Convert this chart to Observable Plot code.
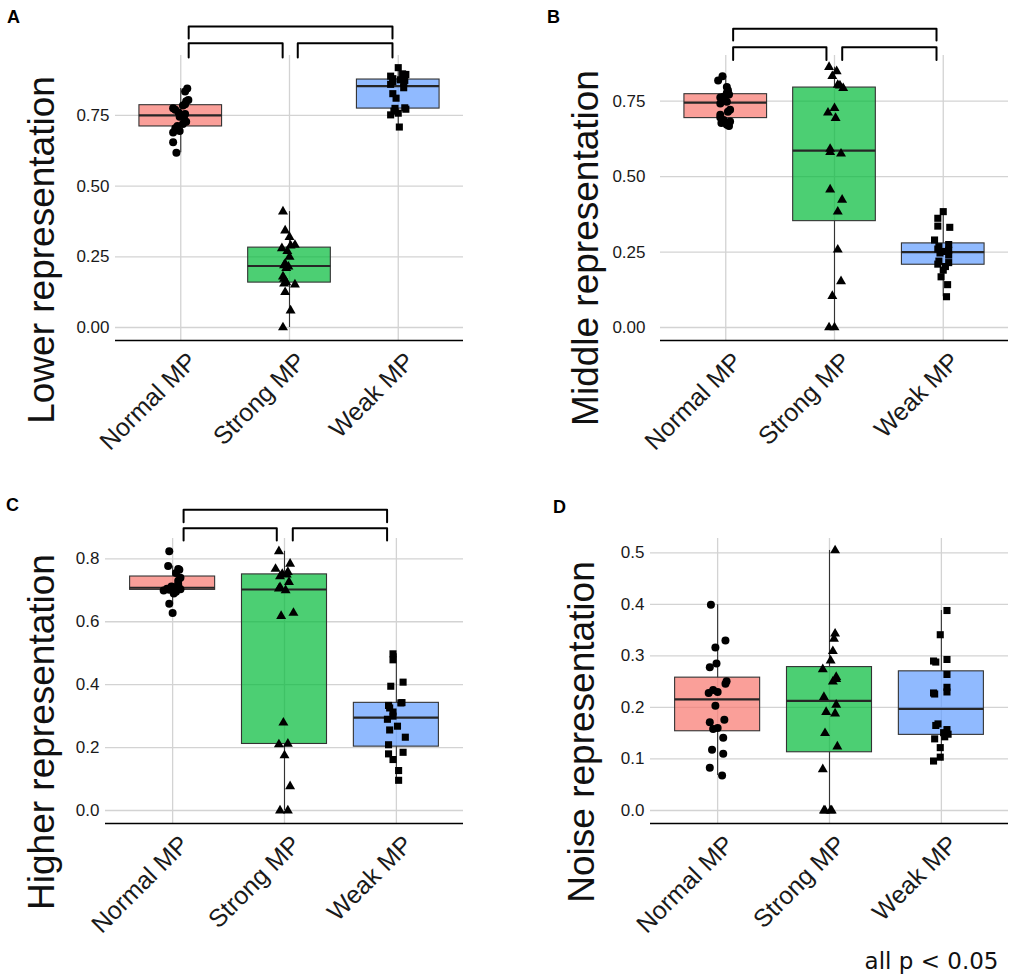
<!DOCTYPE html>
<html>
<head>
<meta charset="utf-8">
<script src="https://cdn.jsdelivr.net/npm/d3@7"></script>
<script src="https://cdn.jsdelivr.net/npm/@observablehq/plot@0.6"></script>
<style>
  body { margin: 0; background: #fff; }
  #fig { position: relative; width: 1013px; height: 978px; background: #fff; font-family: "Liberation Sans", Arial, sans-serif; }
  #fig svg { position: absolute; overflow: visible; }
</style>
</head>
<body>
<div id="fig"></div>
<script>
// ---------- categories & styling ----------
const groups = ["Normal MP", "Strong MP", "Weak MP"];
const shapes = ["circle", "triangle", "square"];
const boxColors = ["#F8766D", "#00BA38", "#619CFF"];

// ---------- tick labels ----------
const ticksAB = [0, 0.25, 0.5, 0.75];
const ticksC = [0, 0.2, 0.4, 0.6, 0.8];
const ticksD = [0, 0.1, 0.2, 0.3, 0.4, 0.5];

// ---------- A: Lower representation ----------
const lowerNormal = [0.618, 0.655, 0.69, 0.695, 0.705, 0.713, 0.72, 0.728, 0.74, 0.745, 0.755, 0.76, 0.77, 0.775, 0.785, 0.79, 0.80, 0.805, 0.835, 0.845];
const lowerNormalJitter = [-0.04, -0.07, -0.07, -0.01, -0.05, -0.03, 0.02, 0.05, 0.03, -0.01, 0.04, -0.02, -0.05, -0.07, 0.02, 0.04, 0.05, 0.07, 0.04, 0.06];
const lowerStrong = [0.00, 0.06, 0.125, 0.152, 0.155, 0.16, 0.172, 0.18, 0.21, 0.215, 0.22, 0.225, 0.25, 0.27, 0.28, 0.29, 0.292, 0.32, 0.343, 0.41];
const lowerStrongJitter = [-0.06, 0.01, -0.04, 0.05, -0.05, -0.03, -0.05, -0.06, -0.03, -0.01, -0.05, -0.04, 0, -0.02, -0.07, 0.01, 0.05, 0, -0.04, -0.06];
const lowerWeak = [0.709, 0.752, 0.758, 0.765, 0.772, 0.775, 0.777, 0.811, 0.827, 0.848, 0.86, 0.865, 0.87, 0.874, 0.876, 0.88, 0.889, 0.895, 0.897, 0.919];
const lowerWeakJitter = [0.01, -0.07, 0, -0.04, 0.07, -0.03, 0.06, -0.02, -0.05, 0.05, -0.07, 0.05, -0.05, 0.06, 0.02, -0.05, -0.07, 0.07, 0.04, 0];

// ---------- B: Middle representation ----------
const middleNormal = [0.668, 0.672, 0.678, 0.683, 0.688, 0.696, 0.705, 0.715, 0.722, 0.742, 0.748, 0.755, 0.762, 0.765, 0.772, 0.777, 0.786, 0.797, 0.819, 0.833];
const middleNormalJitter = [0.03, 0.01, -0.04, 0.04, -0.02, -0.05, -0.05, 0.02, 0.04, -0.05, 0.01, -0.03, -0.05, -0.02, 0.03, 0.01, 0.02, 0.01, -0.07, -0.03];
const middleStrong = [0, 0, 0.104, 0.153, 0.258, 0.384, 0.423, 0.457, 0.576, 0.581, 0.592, 0.694, 0.712, 0.727, 0.793, 0.802, 0.804, 0.833, 0.849, 0.863];
const middleStrongJitter = [-0.05, 0, -0.02, 0.06, 0.03, 0.03, 0.07, -0.04, 0.06, -0.04, -0.04, 0.01, -0.06, 0, 0.08, 0.05, 0.03, -0.02, 0.02, -0.05];
const middleWeak = [0.102, 0.142, 0.168, 0.19, 0.202, 0.21, 0.215, 0.22, 0.24, 0.247, 0.252, 0.256, 0.26, 0.268, 0.275, 0.29, 0.332, 0.336, 0.362, 0.384];
const middleWeakJitter = [0.03, 0.04, -0.02, 0, 0.02, -0.05, 0.05, -0.04, 0.05, -0.03, 0.01, 0.05, -0.05, -0.04, 0.05, -0.08, 0.06, -0.05, -0.05, 0];

// ---------- C: Higher representation ----------
const higherNormal = [0.628, 0.657, 0.69, 0.695, 0.699, 0.702, 0.703, 0.704, 0.705, 0.706, 0.71, 0.712, 0.72, 0.73, 0.74, 0.755, 0.765, 0.768, 0.777, 0.824];
const higherNormalJitter = [0, -0.03, 0.01, 0.03, -0.08, -0.03, 0.07, 0.03, -0.05, 0.06, 0.01, -0.01, 0.05, 0.05, 0.07, 0.03, 0.06, 0.05, -0.04, -0.03];
const higherStrong = [0, 0, 0.077, 0.175, 0.21, 0.212, 0.279, 0.618, 0.628, 0.70, 0.705, 0.71, 0.726, 0.744, 0.75, 0.752, 0.758, 0.768, 0.784, 0.824];
const higherStrongJitter = [-0.04, 0.03, 0.05, 0, -0.05, 0.03, -0.01, -0.03, 0.08, 0.01, -0.05, -0.04, 0.04, -0.04, 0.02, -0.02, 0.03, -0.08, 0.05, -0.05];
const higherWeak = [0.096, 0.127, 0.162, 0.18, 0.185, 0.209, 0.233, 0.256, 0.268, 0.29, 0.30, 0.313, 0.326, 0.334, 0.342, 0.343, 0.395, 0.408, 0.479, 0.498];
const higherWeakJitter = [0.02, 0.02, -0.03, -0.07, 0.06, -0.07, 0.08, -0.06, 0.01, -0.08, -0.03, -0.03, -0.06, -0.07, 0.04, 0.05, -0.05, 0.06, -0.03, -0.03];

// ---------- D: Noise representation ----------
const noiseNormal = [0.068, 0.083, 0.11, 0.118, 0.141, 0.158, 0.16, 0.171, 0.176, 0.203, 0.228, 0.23, 0.234, 0.246, 0.251, 0.278, 0.285, 0.316, 0.33, 0.399];
const noiseNormalJitter = [0.04, -0.07, 0.05, -0.05, 0.05, -0.04, 0, -0.07, 0.06, -0.02, -0.08, 0, -0.04, 0.07, 0.08, -0.07, -0.01, -0.02, 0.07, -0.06];
const noiseStrong = [0, 0, 0, 0, 0.08, 0.124, 0.15, 0.188, 0.191, 0.205, 0.22, 0.25, 0.255, 0.259, 0.274, 0.291, 0.309, 0.333, 0.343, 0.5045];
const noiseStrongJitter = [-0.05, 0.02, -0.04, 0.01, -0.06, 0.07, -0.04, 0.05, -0.03, 0.06, -0.05, 0.03, 0.06, 0.06, -0.06, 0.01, 0.03, 0.04, 0.05, 0.05];
const noiseWeak = [0.096, 0.1035, 0.122, 0.139, 0.143, 0.148, 0.151, 0.157, 0.165, 0.168, 0.226, 0.228, 0.23, 0.239, 0.264, 0.288, 0.29, 0.293, 0.341, 0.388];
const noiseWeakJitter = [-0.07, -0.01, -0.01, -0.06, 0.03, 0.06, 0.02, 0.05, -0.05, -0.03, -0.06, -0.07, 0.05, 0.05, 0.05, -0.05, -0.07, 0.05, -0.01, 0.05];

// ---------- significance brackets (x in group units, y in data units) ----------
const bracketsA = [[1.073, 2.947, 1.065, 0.043], [1.073, 1.937, 1.005, 0.05], [2.076, 2.947, 1.005, 0.05]];
const bracketsB = [[1.068, 2.938, 0.99, 0.039], [1.068, 1.926, 0.929, 0.042], [2.071, 2.938, 0.929, 0.042]];
const bracketsC = [[1.098, 2.917, 0.956, 0.04], [1.098, 1.931, 0.897, 0.039], [2.074, 2.917, 0.897, 0.039]];

const FONT = "Liberation Sans, Arial, sans-serif";

function stats(values, g) {
  const s = values.slice().sort(d3.ascending);
  const q1 = d3.quantile(s, 0.25), med = d3.quantile(s, 0.5), q3 = d3.quantile(s, 0.75);
  const iqr = q3 - q1;
  const lo = d3.min(s.filter(v => v >= q1 - 1.5 * iqr));
  const hi = d3.max(s.filter(v => v <= q3 + 1.5 * iqr));
  return {g, q1, med, q3, lo, hi, x1: g - 0.38, x2: g + 0.38, color: boxColors[g - 1]};
}

function panel(cfg) {
  const st = cfg.series.map((v, i) => stats(v, i + 1));
  const pts = cfg.series.map((vals, i) => vals.map((v, j) => ({x: i + 1 + cfg.jitter[i][j], y: v})));
  const bracketPts = [];
  (cfg.brackets || []).forEach(([a, b, y, tip], k) => {
    bracketPts.push({id: k, x: a, y: y - tip}, {id: k, x: a, y}, {id: k, x: b, y}, {id: k, x: b, y: y - tip});
  });
  const marks = [
    Plot.gridY(cfg.ticks, {stroke: "#d3d3d3", strokeOpacity: 1, strokeWidth: 1.3}),
    Plot.gridX([1, 2, 3], {stroke: "#d3d3d3", strokeOpacity: 1, strokeWidth: 1.3}),
    Plot.ruleY([cfg.yDomain[0]], {stroke: "#000", strokeWidth: 1.6}),
    Plot.ruleX(st, {x: "g", y1: "q3", y2: "hi", stroke: "#333", strokeWidth: 1.1}),
    Plot.ruleX(st, {x: "g", y1: "lo", y2: "q1", stroke: "#333", strokeWidth: 1.1}),
    Plot.rect(st, {x1: "x1", x2: "x2", y1: "q1", y2: "q3", fill: "color", fillOpacity: 0.7, stroke: "#333", strokeWidth: 1.1}),
    Plot.ruleY(st, {y: "med", x1: "x1", x2: "x2", stroke: "#262626", strokeWidth: 2.2}),
    ...pts.map((p, i) => Plot.dot(p, {x: "x", y: "y", symbol: shapes[i], fill: "#000", r: i === 1 ? 3.7 : 4})),
    Plot.axisY(cfg.ticks, {tickFormat: d3.format(cfg.fmt), tickSize: 0, tickPadding: cfg.tickPadding, fontSize: 17, fontFamily: FONT, label: null, color: "#1a1a1a"}),
    Plot.text(groups, {x: (d, i) => i + 1, frameAnchor: "bottom", rotate: -45, textAnchor: "end", lineAnchor: "top", dx: 5, dy: 10, fontSize: 25, fontFamily: FONT, fill: "#1a1a1a"}),
    Plot.text([cfg.title], {frameAnchor: "left", rotate: -90, textAnchor: "middle", lineAnchor: "bottom", dx: cfg.titleDx, dy: cfg.titleDy, fontSize: 37, fontFamily: FONT, fill: "#111"}),
    Plot.text([cfg.letter], {frameAnchor: "top-left", textAnchor: "middle", lineAnchor: "middle", dx: cfg.letterDx, dy: cfg.letterDy, fontSize: 18, fontWeight: "bold", fontFamily: FONT, fill: "#000"})
  ];
  if (bracketPts.length) marks.push(Plot.line(bracketPts, {x: "x", y: "y", z: "id", stroke: "#000", strokeWidth: 2, clip: false}));
  if (cfg.caption) marks.push(Plot.text([cfg.caption], {frameAnchor: "bottom-right", textAnchor: "end", lineAnchor: "bottom", dx: cfg.capDx, dy: cfg.capDy, fontSize: 23, fontFamily: "DejaVu Sans, sans-serif", fill: "#111"}));

  const svg = Plot.plot({
    width: cfg.width, height: cfg.height,
    marginTop: cfg.m[0], marginRight: cfg.m[1], marginBottom: cfg.m[2], marginLeft: cfg.m[3],
    style: {fontFamily: FONT, background: "transparent", overflow: "visible"},
    x: {domain: [0.4, 3.6], axis: null},
    y: {domain: cfg.yDomain, label: null},
    color: {type: "identity"},
    marks
  });
  svg.style.left = cfg.left + "px";
  svg.style.top = cfg.top + "px";
  document.getElementById("fig").appendChild(svg);
}

panel({
  left: 0, top: 0, width: 500, height: 470, m: [55, 37, 130, 115],
  yDomain: [-0.046, 0.962], ticks: ticksAB, fmt: ".2f", tickPadding: 6,
  series: [lowerNormal, lowerStrong, lowerWeak], jitter: [lowerNormalJitter, lowerStrongJitter, lowerWeakJitter],
  brackets: bracketsA, title: "Lower representation", titleDx: -62, titleDy: 52,
  letter: "A", letterDx: -102, letterDy: -38
});
panel({
  left: 500, top: 0, width: 513, height: 470, m: [55, 5, 130, 160],
  yDomain: [-0.0431, 0.9015], ticks: ticksAB, fmt: ".2f", tickPadding: 15,
  series: [middleNormal, middleStrong, middleWeak], jitter: [middleNormalJitter, middleStrongJitter, middleWeakJitter],
  brackets: bracketsB, title: "Middle representation", titleDx: -63, titleDy: 50,
  letter: "B", letterDx: -107, letterDy: -38
});
panel({
  left: 0, top: 470, width: 500, height: 508, m: [68, 37, 155, 105],
  yDomain: [-0.0413, 0.8646], ticks: ticksC, fmt: ".1f", tickPadding: 6,
  series: [higherNormal, higherStrong, higherWeak], jitter: [higherNormalJitter, higherStrongJitter, higherWeakJitter],
  brackets: bracketsC, title: "Higher representation", titleDx: -52, titleDy: 51,
  letter: "C", letterDx: -93, letterDy: -33
});
panel({
  left: 500, top: 470, width: 513, height: 508, m: [68, 5, 155, 150],
  yDomain: [-0.0252, 0.5277], ticks: ticksD, fmt: ".1f", tickPadding: 6,
  series: [noiseNormal, noiseStrong, noiseWeak], jitter: [noiseNormalJitter, noiseStrongJitter, noiseWeakJitter],
  brackets: [], title: "Noise representation", titleDx: -57, titleDy: 51,
  letter: "D", letterDx: -91, letterDy: -31,
  caption: "all p < 0.05", capDx: -10, capDy: 145
});
</script>
</body>
</html>
